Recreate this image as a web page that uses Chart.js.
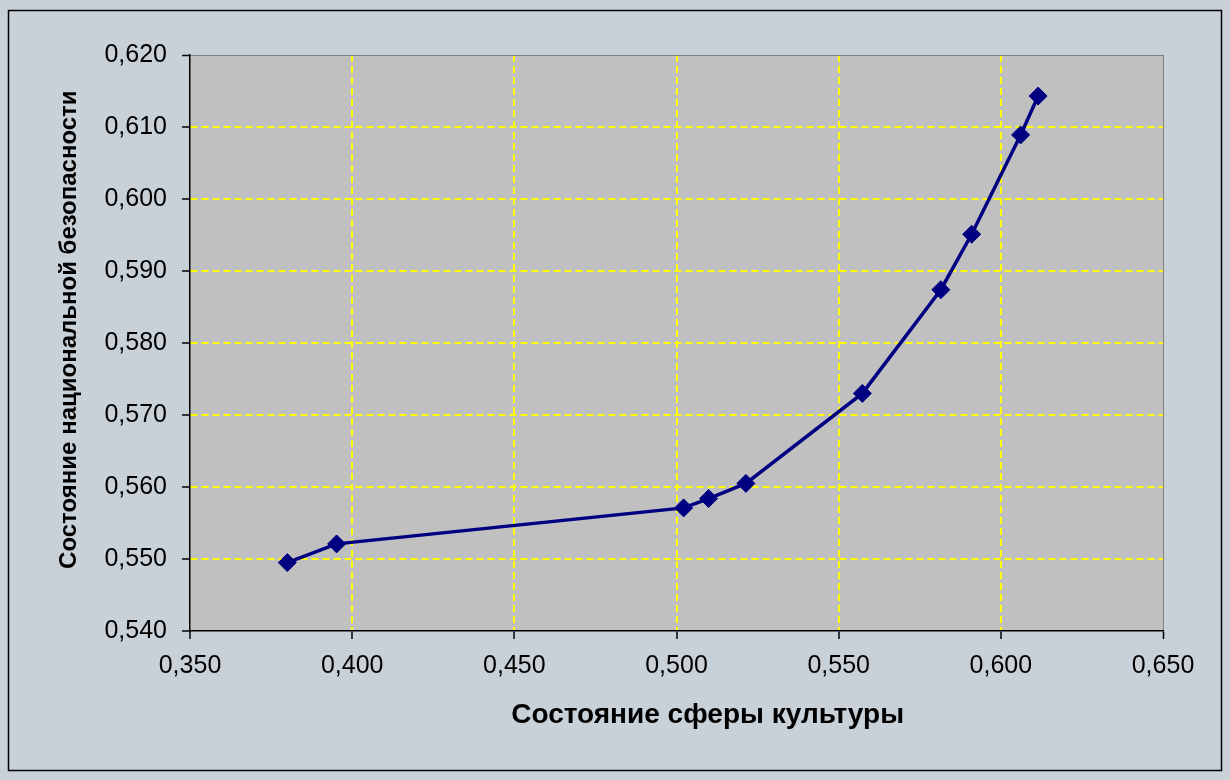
<!DOCTYPE html>
<html>
<head>
<meta charset="utf-8">
<script src="https://cdn.jsdelivr.net/npm/chart.js@4/dist/chart.umd.min.js"></script>
<style>
  html, body { margin: 0; padding: 0; background: #c9d1d8; }
  #wrap { width: 1230px; height: 780px; position: relative; }
</style>
</head>
<body>
<div id="wrap"><canvas id="c" width="1230" height="780"></canvas></div>
<script>
// Data
const cultureState = [0.380, 0.3952, 0.5022, 0.5099, 0.5214, 0.5573, 0.5815, 0.5910, 0.6061, 0.6115];
const securityState = [0.5495, 0.5521, 0.5571, 0.5584, 0.5605, 0.5730, 0.5874, 0.5951, 0.6089, 0.6143];
const xTickRange = { min: 0.35, max: 0.65, step: 0.05 };
const yTickRange = { min: 0.54, max: 0.62, step: 0.01 };
const xTitle = 'Состояние сферы культуры';
const yTitle = 'Состояние национальной безопасности';

const points = cultureState.map((x, i) => ({ x: x, y: securityState[i] }));
const fmt = v => Number(v).toFixed(3).replace('.', ',');
const near = (a, b) => Math.abs(a - b) < 1e-9;

const decor = {
  id: 'decor',
  beforeDraw(chart) {
    const { ctx, chartArea: a } = chart;
    ctx.save();
    ctx.fillStyle = '#c9d1d8';
    ctx.fillRect(0, 0, chart.width, chart.height);
    ctx.strokeStyle = '#000';
    ctx.lineWidth = 1.5;
    ctx.strokeRect(8.5, 10.5, 1213, 760);
    ctx.fillStyle = '#c0c0c0';
    ctx.fillRect(a.left, a.top, a.right - a.left, a.bottom - a.top);
    ctx.restore();
  }
};

function gridColor(range) {
  return c => {
    if (!c.tick) return '#ffff00';
    if (near(c.tick.value, range.max)) return '#808080';
    if (near(c.tick.value, range.min)) return 'rgba(0,0,0,0)';
    return '#ffff00';
  };
}
function gridWidth(range) {
  return c => (c.tick && near(c.tick.value, range.max)) ? 1 : 2;
}
function gridDash(range) {
  return c => (c.type === 'tick' && c.tick && !near(c.tick.value, range.max) && !near(c.tick.value, range.min)) ? [7, 4] : [];
}

new Chart(document.getElementById('c'), {
  type: 'scatter',
  data: {
    datasets: [{
      data: points,
      showLine: true,
      borderColor: '#000080',
      backgroundColor: '#000080',
      borderWidth: 3.5,
      pointStyle: 'rectRot',
      pointRadius: 9,
      pointHoverRadius: 9,
      pointBorderWidth: 1,
      tension: 0
    }]
  },
  options: {
    responsive: false,
    animation: false,
    devicePixelRatio: 1,
    layout: { padding: { left: 0, top: 55, right: 67, bottom: 0 } },
    plugins: { legend: { display: false }, tooltip: { enabled: false } },
    scales: {
      x: {
        type: 'linear',
        min: xTickRange.min,
        max: xTickRange.max,
        afterFit(s) { s.height = 149; },
        ticks: {
          stepSize: xTickRange.step,
          color: '#000',
          padding: 12,
          font: { family: 'Liberation Sans, Arial', size: 25 },
          callback: v => fmt(v)
        },
        grid: {
          color: gridColor(xTickRange),
          lineWidth: gridWidth(xTickRange),
          tickLength: 8,
          tickColor: '#000',
          tickWidth: 1.5,
          tickBorderDash: []
        },
        border: {
          display: true,
          color: '#000',
          width: 1.5,
          z: 1,
          dash: gridDash(xTickRange)
        },
        title: {
          display: true,
          text: '        ' + xTitle,
          color: '#000',
          font: { family: 'Liberation Sans, Arial', size: 28, weight: 'bold' },
          padding: { top: 0, bottom: 48 }
        }
      },
      y: {
        type: 'linear',
        min: yTickRange.min,
        max: yTickRange.max,
        afterFit(s) { s.width = 190; },
        ticks: {
          stepSize: yTickRange.step,
          color: '#000',
          padding: 15,
          font: { family: 'Liberation Sans, Arial', size: 25 },
          callback: v => fmt(v)
        },
        grid: {
          color: gridColor(yTickRange),
          lineWidth: gridWidth(yTickRange),
          tickLength: 8,
          tickColor: '#000',
          tickWidth: 1.5,
          tickBorderDash: []
        },
        border: {
          display: true,
          color: '#000',
          width: 1.5,
          z: 1,
          dash: gridDash(yTickRange)
        },
        title: {
          display: true,
          text: '    ' + yTitle,
          color: '#000',
          font: { family: 'Liberation Sans, Arial', size: 24, weight: 'bold' },
          padding: { top: 55, bottom: 0 }
        }
      }
    }
  },
  plugins: [decor]
});
</script>
</body>
</html>
